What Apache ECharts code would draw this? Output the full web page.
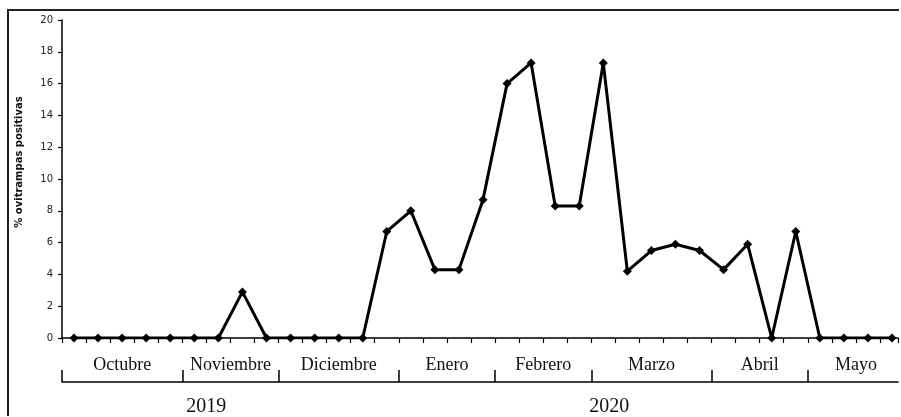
<!DOCTYPE html>
<html>
<head>
<meta charset="utf-8">
<script src="https://cdn.jsdelivr.net/npm/echarts@6/dist/echarts.min.js"></script>
<style>
  html, body { margin: 0; padding: 0; background: #fff; overflow: hidden; }
  #wrap { position: relative; width: 901px; height: 417px; overflow: hidden; }
  #chart { position: absolute; left: 0; top: 0; width: 901px; height: 417px; }
  #frame { position: absolute; left: 7px; top: 9px; width: 890px; height: 405px;
           border-top: 2px solid #222; border-left: 2px solid #222; pointer-events: none; }
</style>
</head>
<body>
<div id="wrap">
  <div id="chart"></div>
  <div id="frame"></div>
</div>
<script>
// ---- data ----
const monthNames = ['Octubre', 'Noviembre', 'Diciembre', 'Enero', 'Febrero', 'Marzo', 'Abril', 'Mayo'];
const monthCounts = [5, 4, 5, 4, 4, 5, 4, 4];
const yearNames = ['2019', '2020'];
const yearLabelAt = [6, 22.75];          // centre of each year label, in sample units from the left edge
const values = [
  0, 0, 0, 0, 0,            // Octubre
  0, 0, 2.9, 0,             // Noviembre
  0, 0, 0, 0, 6.7,          // Diciembre
  8.0, 4.3, 4.3, 8.7,       // Enero
  16.0, 17.3, 8.3, 8.3,     // Febrero
  17.3, 4.2, 5.5, 5.9, 5.5, // Marzo
  4.3, 5.9, 0, 6.7,         // Abril
  0, 0, 0, 0                // Mayo
];
const yMin = 0, yMax = 20, yInterval = 2;
const yName = '% ovitrampas positivas';
const xMin = -0.5, xMax = 34.25;        // visible sample range (the last slot runs past the picture edge)

// ---- derived axis data ----
const seriesData = values.map((v, i) => [i, v]);
const RES = 4;
const nSlots = Math.round((xMax - xMin) * RES) + 1;
const monthAxisData = new Array(nSlots).fill('');
const yearAxisData = new Array(nSlots).fill('');
const boundarySet = new Set();
let start = 0;
monthNames.forEach((m, i) => {
  boundarySet.add(start * RES);
  monthAxisData[Math.round((start + monthCounts[i] / 2) * RES)] = m;
  start += monthCounts[i];
});
boundarySet.add(start * RES);
yearNames.forEach((y, i) => { yearAxisData[Math.round(yearLabelAt[i] * RES)] = y; });

const chart = echarts.init(document.getElementById('chart'), null, { renderer: 'canvas' });
const serif = "'Liberation Serif', 'Times New Roman', serif";
chart.setOption({
  animation: false,
  backgroundColor: 'transparent',
  grid: { left: 62, right: 0, top: 20, bottom: 77, containLabel: false },
  xAxis: [
    {
      type: 'value',
      min: xMin, max: xMax, interval: 1,
      axisLine: { show: true, onZero: false, lineStyle: { color: '#000', width: 1.5 } },
      axisTick: { show: true, length: 5, lineStyle: { color: '#000', width: 1.2 } },
      axisLabel: { show: false },
      splitLine: { show: false }
    },
    {
      type: 'category',
      data: monthAxisData,
      boundaryGap: false,
      position: 'bottom',
      offset: 44,
      axisLine: { show: true, onZero: false, lineStyle: { color: '#000', width: 1.5 } },
      axisTick: { show: true, inside: true, length: 12,
                  interval: (idx) => boundarySet.has(idx),
                  lineStyle: { color: '#000', width: 1.5 } },
      axisLabel: { show: true, inside: true, interval: 0, margin: 8,
                   fontFamily: serif, fontSize: 18, color: '#111' },
      splitLine: { show: false }
    },
    {
      type: 'category',
      data: yearAxisData,
      boundaryGap: false,
      position: 'bottom',
      offset: 44,
      axisLine: { show: false },
      axisTick: { show: false },
      axisLabel: { show: true, interval: 0, margin: 15,
                   fontFamily: serif, fontSize: 20, color: '#111' },
      splitLine: { show: false }
    }
  ],
  yAxis: {
    type: 'value',
    min: yMin, max: yMax, interval: yInterval,
    name: yName,
    nameLocation: 'middle',
    nameGap: 38,
    nameRotate: 90,
    nameTextStyle: { fontFamily: 'DejaVu Sans', fontSize: 10, fontWeight: 'bold', color: '#111',
                     padding: [0, 0, 0, 34] },
    axisLine: { show: true, onZero: false, lineStyle: { color: '#000', width: 1.5 } },
    axisTick: { show: true, length: 4, lineStyle: { color: '#000', width: 1.2 } },
    axisLabel: { fontFamily: 'DejaVu Sans', fontSize: 10, color: '#222', margin: 9 },
    splitLine: { show: false }
  },
  series: [{
    type: 'line',
    data: seriesData,
    xAxisIndex: 0,
    symbol: 'diamond',
    symbolSize: 9,
    showSymbol: true,
    lineStyle: { color: '#000', width: 3 },
    itemStyle: { color: '#000' },
    z: 5
  }]
});
</script>
</body>
</html>
